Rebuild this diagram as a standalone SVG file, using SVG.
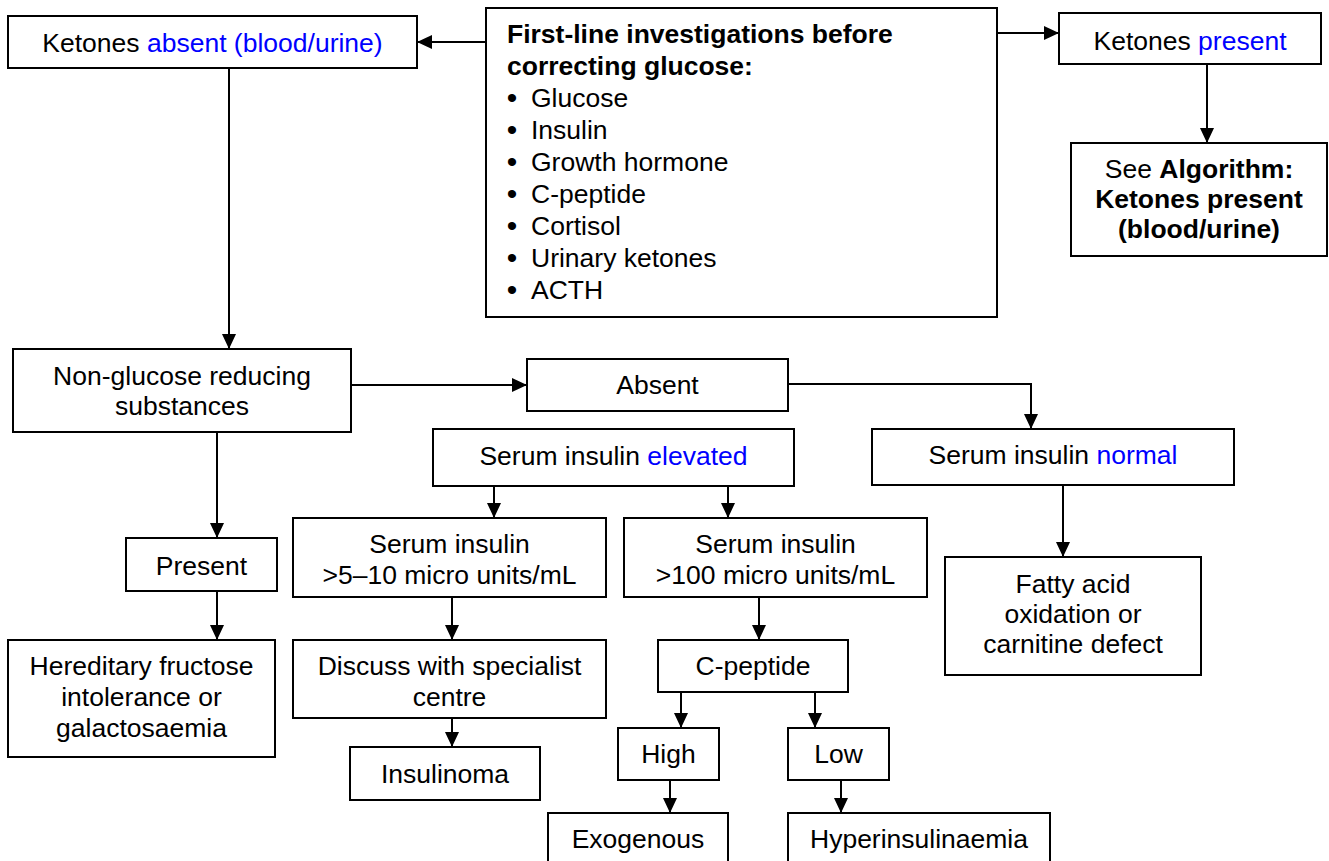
<svg xmlns="http://www.w3.org/2000/svg" width="1329" height="861" viewBox="0 0 1329 861">
  <defs>
    <marker id="arrow" markerUnits="userSpaceOnUse" markerWidth="15" markerHeight="14" refX="15" refY="7" orient="auto">
      <path d="M0,0 L15,7 L0,14 z" fill="#000"/>
    </marker>
    <style>
      .box { fill: #fff; stroke: #000; stroke-width: 2; }
      .t { font-family: "Liberation Sans", Arial, sans-serif; font-size: 26.5px; fill: #000; text-anchor: middle; }
      .l { text-anchor: start; }
      .b { font-weight: bold; }
      .blue { fill: #0000ff; }
      .bullet { font-size: 30px; }
      .conn { fill: none; stroke: #000; stroke-width: 2; marker-end: url(#arrow); }
    </style>
  </defs>
  <rect width="1329" height="861" fill="#fff"/>

  <!-- connectors -->
  <g id="connectors">
    <path class="conn" d="M486,42 H417"/>
    <path class="conn" d="M997,33 H1059"/>
    <path class="conn" d="M1207,64 V143"/>
    <path class="conn" d="M229,68 V349"/>
    <path class="conn" d="M351,385 H527"/>
    <path class="conn" d="M788,384 H1031 V429"/>
    <path class="conn" d="M217,432 V538"/>
    <path class="conn" d="M217,591 V640"/>
    <path class="conn" d="M494,486 V518"/>
    <path class="conn" d="M728,486 V518"/>
    <path class="conn" d="M1063,485 V557"/>
    <path class="conn" d="M452,597 V640"/>
    <path class="conn" d="M452,718 V747"/>
    <path class="conn" d="M759,597 V640"/>
    <path class="conn" d="M681,692 V728"/>
    <path class="conn" d="M815,692 V728"/>
    <path class="conn" d="M670,780 V813"/>
    <path class="conn" d="M841,780 V813"/>
  </g>

  <g id="ketones-absent">
    <rect class="box" x="8" y="16" width="409" height="52"/>
    <text class="t" x="212.5" y="52">Ketones <tspan class="blue">absent (blood/urine)</tspan></text>
  </g>

  <g id="first-line">
    <rect class="box" x="486" y="8" width="511" height="309"/>
    <text class="t l b" x="507" y="43">First-line investigations before</text>
    <text class="t l b" x="507" y="75">correcting glucose:</text>
    <text class="t bullet" x="512" y="108">•</text><text class="t l" x="531" y="107">Glucose</text>
    <text class="t bullet" x="512" y="140">•</text><text class="t l" x="531" y="139">Insulin</text>
    <text class="t bullet" x="512" y="172">•</text><text class="t l" x="531" y="171">Growth hormone</text>
    <text class="t bullet" x="512" y="204">•</text><text class="t l" x="531" y="203">C-peptide</text>
    <text class="t bullet" x="512" y="236">•</text><text class="t l" x="531" y="235">Cortisol</text>
    <text class="t bullet" x="512" y="268">•</text><text class="t l" x="531" y="267">Urinary ketones</text>
    <text class="t bullet" x="512" y="300">•</text><text class="t l" x="531" y="299">ACTH</text>
  </g>

  <g id="ketones-present">
    <rect class="box" x="1059" y="13" width="262" height="51"/>
    <text class="t" x="1190" y="50">Ketones <tspan class="blue">present</tspan></text>
  </g>

  <g id="see-algorithm">
    <rect class="box" x="1071" y="143" width="256" height="113"/>
    <text class="t" x="1199" y="178">See <tspan class="b">Algorithm:</tspan></text>
    <text class="t b" x="1199" y="208">Ketones present</text>
    <text class="t b" x="1199" y="238">(blood/urine)</text>
  </g>

  <g id="non-glucose">
    <rect class="box" x="13" y="349" width="338" height="83"/>
    <text class="t" x="182" y="385">Non-glucose reducing</text>
    <text class="t" x="182" y="415">substances</text>
  </g>

  <g id="absent">
    <rect class="box" x="527" y="359" width="261" height="52"/>
    <text class="t" x="657.5" y="394">Absent</text>
  </g>

  <g id="insulin-elevated">
    <rect class="box" x="433" y="429" width="361" height="57"/>
    <text class="t" x="613.5" y="465">Serum insulin <tspan class="blue">elevated</tspan></text>
  </g>

  <g id="insulin-normal">
    <rect class="box" x="872" y="429" width="362" height="56"/>
    <text class="t" x="1053" y="464">Serum insulin <tspan class="blue">normal</tspan></text>
  </g>

  <g id="present">
    <rect class="box" x="126" y="538" width="151" height="53"/>
    <text class="t" x="201.5" y="575">Present</text>
  </g>

  <g id="hereditary">
    <rect class="box" x="8" y="640" width="267" height="117"/>
    <text class="t" x="141.5" y="675">Hereditary fructose</text>
    <text class="t" x="141.5" y="706">intolerance or</text>
    <text class="t" x="141.5" y="737">galactosaemia</text>
  </g>

  <g id="insulin-5-10">
    <rect class="box" x="293" y="518" width="313" height="79"/>
    <text class="t" x="449.5" y="553">Serum insulin</text>
    <text class="t" x="449.5" y="584">&gt;5–10 micro units/mL</text>
  </g>

  <g id="insulin-100">
    <rect class="box" x="624" y="518" width="303" height="79"/>
    <text class="t" x="775.5" y="553">Serum insulin</text>
    <text class="t" x="775.5" y="584">&gt;100 micro units/mL</text>
  </g>

  <g id="fatty-acid">
    <rect class="box" x="945" y="557" width="256" height="118"/>
    <text class="t" x="1073" y="593">Fatty acid</text>
    <text class="t" x="1073" y="623">oxidation or</text>
    <text class="t" x="1073" y="653">carnitine defect</text>
  </g>

  <g id="discuss">
    <rect class="box" x="293" y="640" width="313" height="78"/>
    <text class="t" x="449.5" y="675">Discuss with specialist</text>
    <text class="t" x="449.5" y="706">centre</text>
  </g>

  <g id="insulinoma">
    <rect class="box" x="350" y="747" width="190" height="53"/>
    <text class="t" x="445" y="783">Insulinoma</text>
  </g>

  <g id="c-peptide">
    <rect class="box" x="658" y="640" width="190" height="52"/>
    <text class="t" x="753" y="675">C-peptide</text>
  </g>

  <g id="high">
    <rect class="box" x="618" y="728" width="101" height="52"/>
    <text class="t" x="668.5" y="763">High</text>
  </g>

  <g id="low">
    <rect class="box" x="788" y="728" width="101" height="52"/>
    <text class="t" x="838.5" y="763">Low</text>
  </g>

  <g id="exogenous">
    <rect class="box" x="548" y="813" width="180" height="56"/>
    <text class="t" x="638" y="848">Exogenous</text>
  </g>

  <g id="hyperinsulinaemia">
    <rect class="box" x="788" y="813" width="262" height="56"/>
    <text class="t" x="919" y="848">Hyperinsulinaemia</text>
  </g>
</svg>
